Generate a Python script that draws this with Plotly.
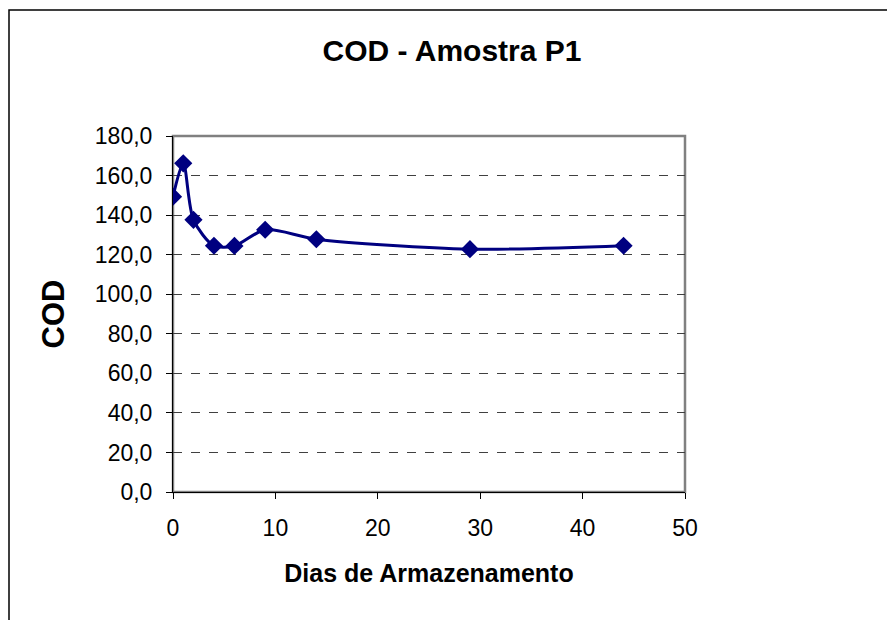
import plotly.graph_objects as go

# dados
dias = [0, 1, 2, 4, 6, 9, 14, 29, 44]
cod = [149.3, 166.2, 137.6, 124.5, 124.4, 132.6, 127.8, 122.8, 124.5]
y_ticks = [0, 20, 40, 60, 80, 100, 120, 140, 160, 180]
x_ticks = [0, 10, 20, 30, 40, 50]

fonte = "Liberation Sans, Arial, sans-serif"

# área do gráfico em pixels
L, R, T, B = 173, 685, 136, 492
W, H = 887, 620


def px_x(p):
    return (p - L) / (R - L)


def px_y(p):
    return (B - p) / (B - T)


serie = go.Scatter(
    x=dias,
    y=cod,
    mode="lines+markers",
    line=dict(color="#000080", width=3, shape="spline", smoothing=0.8),
    marker=dict(symbol="diamond", size=14, color="#000080"),
    showlegend=False,
)

fig = go.Figure(data=[serie])

fig.update_layout(
    width=W,
    height=H,
    margin=dict(l=L, r=W - R, t=T, b=H - B),
    paper_bgcolor="white",
    plot_bgcolor="white",
    separators=",.",
    font=dict(family=fonte, color="black", size=23),
    title=dict(
        text="COD - Amostra P1",
        font=dict(family=fonte, size=30, weight="bold"),
        x=452 / W,
        xanchor="center",
        y=1 - 50 / H,
        yanchor="middle",
    ),
    xaxis=dict(
        range=[0, 50],
        tickvals=x_ticks,
        showgrid=False,
        zeroline=False,
        showline=True,
        linecolor="black",
        linewidth=1,
        ticks="outside",
        ticklen=6,
        tickcolor="black",
        ticklabelstandoff=9,
        title=dict(text="Dias de Armazenamento", font=dict(size=25, weight="bold"), standoff=24),
    ),
    yaxis=dict(
        range=[0, 180],
        tickvals=y_ticks,
        tickformat=".1f",
        showgrid=True,
        gridcolor="#404040",
        griddash="dash",
        gridwidth=1,
        zeroline=False,
        showline=True,
        linecolor="black",
        linewidth=1,
        ticks="outside",
        ticklen=6,
        tickcolor="black",
        ticklabelstandoff=9,
        title=dict(text="COD", font=dict(size=31, weight="bold"), standoff=20),
    ),
    shapes=[
        # moldura do gráfico
        dict(type="rect", xref="paper", yref="paper",
             x0=px_x(9), x1=px_x(900), y0=px_y(640), y1=px_y(10),
             line=dict(color="black", width=1.5), layer="below"),
        # borda da área de plotagem
        dict(type="rect", xref="paper", yref="paper",
             x0=0, x1=1, y0=0, y1=1,
             line=dict(color="#808080", width=2.5), layer="below"),
    ],
)

fig.write_html("out.html", config={"displayModeBar": False},
               post_script="document.body.style.margin='0';")
